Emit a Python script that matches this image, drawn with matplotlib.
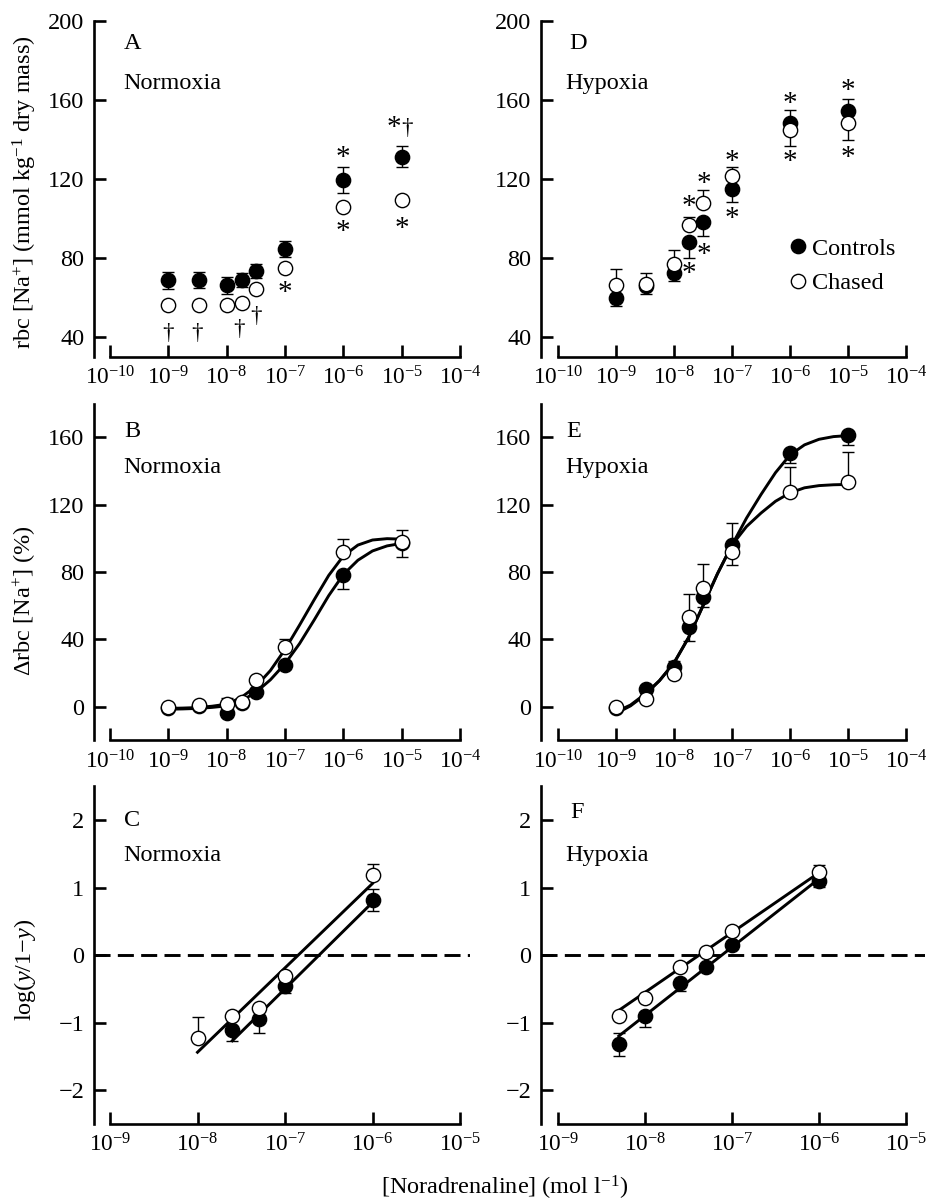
import numpy as np
import matplotlib.pyplot as plt
from matplotlib.ticker import FixedLocator, NullLocator, LogFormatterMathtext

plt.rcParams['font.family'] = ['Liberation Serif', 'DejaVu Serif']
plt.rcParams['mathtext.fontset'] = 'custom'
plt.rcParams['mathtext.rm'] = 'Liberation Serif'
plt.rcParams['mathtext.it'] = 'Liberation Serif:italic'
plt.rcParams['font.size'] = 17.5

# --- data ---------------------------------------------------------------
# noradrenaline concentrations (mol l-1)
conc_top = [1e-9, 3.3e-9, 1e-8, 1.85e-8, 3.2e-8, 1e-7, 1e-6, 1e-5]
conc_c_ctrl = [2.5e-8, 5e-8, 1e-7, 1e-6]
conc_c_chas = [1e-8, 2.5e-8, 5e-8, 1e-7, 1e-6]
conc_f = [5e-9, 1e-8, 2.5e-8, 5e-8, 1e-7, 1e-6]

# A: normoxia, rbc [Na+]
a_ctrl = [68.9, 68.9, 66.4, 69.2, 73.6, 84.5, 119.7, 131.4]
a_ctrl_err = [4.3, 4.1, 4.3, 3.5, 3.6, 4.0, 6.5, 5.3]
a_chas = [56.1, 56.1, 56.1, 57.5, 64.2, 75.1, 105.9, 109.6]

# D: hypoxia, rbc [Na+]
d_ctrl = [59.7, 66.0, 72.6, 88.2, 98.3, 115.1, 148.3, 154.6]
d_ctrl_lo = [3.9, 4.2, 4.0, 7.9, 7.0, 6.7, 0, 0]
d_ctrl_hi = [0, 0, 0, 0, 0, 0, 7.0, 6.3]
d_chas = [66.4, 67.0, 77.3, 96.6, 107.9, 121.5, 145.2, 148.6]
d_chas_lo = [0, 0, 0, 0, 0, 0, 8.2, 8.6]
d_chas_hi = [8.4, 5.6, 6.7, 4.3, 6.7, 4.5, 0, 0]

# B: normoxia, delta rbc [Na+] (%)
b_ctrl = [-0.5, 0.5, -4.0, 2.0, 8.5, 24.8, 78.2, 97.5]
b_ctrl_lo = [0, 0, 0, 0, 0, 2.5, 8.3, 0]
b_ctrl_hi = [0, 0, 0, 0, 0, 0, 0, 0]
b_chas = [0.0, 1.0, 1.6, 3.0, 15.8, 35.2, 91.7, 98.0]
b_chas_lo = [0, 0, 0, 0, 0, 0, 0, 9.3]
b_chas_hi = [0, 0, 3.3, 0, 0, 4.8, 7.7, 7.0]

# E: hypoxia, delta rbc [Na+] (%)
e_ctrl = [-1.0, 10.3, 23.8, 47.5, 65.0, 96.0, 150.5, 161.4]
e_ctrl_lo = [0, 0, 0, 8.3, 6.0, 0, 6.0, 6.0]
e_ctrl_hi = [0, 0, 3.3, 0, 0, 12.9, 0, 0]
e_chas = [0.0, 4.4, 19.4, 53.1, 70.3, 92.1, 127.8, 133.7]
e_chas_lo = [0, 0, 0, 0, 0, 7.9, 0, 0]
e_chas_hi = [0, 0, 0, 13.8, 14.3, 0, 14.8, 17.8]

# fitted curves in B and E, read at quarter-decade steps
curve_logx = [-9, -8.75, -8.5, -8.25, -8, -7.75, -7.5, -7.25, -7,
              -6.75, -6.5, -6.25, -6, -5.75, -5.5, -5.25, -5]
b_fit_ctrl = [-1.5, -1.3, -1.0, -0.4, 0.5, 3.5, 8.5, 16, 25.5,
              37.5, 51.5, 66, 78.5, 87, 92.5, 95.5, 97]
b_fit_chas = [-1.0, -0.8, -0.5, 0.3, 1.5, 5.5, 12, 21.5, 34,
              48.5, 63.5, 78, 89.5, 96, 99, 99.8, 99.5]
e_fit_ctrl = [-4, 0.5, 7, 15.5, 26, 41, 60, 79, 96,
              112, 126, 139, 149.5, 155.5, 158.8, 160.4, 161]
e_fit_chas = [-3, 1, 7.5, 15.5, 26, 41, 60, 79, 96,
              107, 115, 122, 127, 130, 131.3, 131.8, 132]

# C: normoxia, log(y/1-y)
c_ctrl = [-1.11, -0.95, -0.46, 0.81]
c_ctrl_lo = [0.16, 0.20, 0.10, 0.15]
c_ctrl_hi = [0, 0, 0, 0.17]
c_chas = [-1.23, -0.90, -0.79, -0.31, 1.18]
c_chas_lo = [0, 0, 0, 0, 0]
c_chas_hi = [0.31, 0, 0, 0, 0.17]
c_line_ctrl_x, c_line_ctrl_y = [2.5e-8, 1e-6], [-1.27, 0.78]
c_line_chas_x, c_line_chas_y = [1e-8, 1e-6], [-1.44, 1.06]

# F: hypoxia, log(y/1-y)
f_ctrl = [-1.32, -0.90, -0.41, -0.18, 0.15, 1.09]
f_ctrl_lo = [0.17, 0.17, 0.12, 0, 0, 0.08]
f_ctrl_hi = [0.16, 0, 0, 0, 0, 0]
f_chas = [-0.90, -0.63, -0.18, 0.05, 0.35, 1.23]
f_chas_lo = [0, 0, 0, 0, 0, 0]
f_chas_hi = [0, 0, 0, 0, 0, 0.10]
f_line_ctrl_x, f_line_ctrl_y = [5e-9, 1e-6], [-1.20, 1.13]
f_line_chas_x, f_line_chas_y = [5e-9, 1e-6], [-0.82, 1.22]

# significance marks (x, y, symbol)
a_marks = [(10**-9.01, 42.5, '†'), (10**-8.5, 42.5, '†'), (10**-7.79, 44.2, '†'),
           (10**-7.5, 50.9, '†'), (1e-7, 66.1, '*'), (1e-6, 134.1, '*'),
           (1e-6, 96.7, '*'), (10**-5.14, 149.3, '*'), (10**-4.9, 146.2, '†'),
           (1e-5, 98.2, '*')]
d_marks = [(10**-7.75, 109.3, '*'), (10**-7.74, 75.3, '*'), (10**-7.48, 121.0, '*'),
           (10**-7.48, 84.9, '*'), (1e-7, 132.0, '*'), (1e-7, 103.4, '*'),
           (1e-6, 161.4, '*'), (1e-6, 132.0, '*'), (1e-5, 168.4, '*'),
           (1e-5, 134.5, '*')]

# --- figure ------------------------------------------------------------
W, H = 928, 1200
fig = plt.figure(figsize=(W / 100, H / 100), dpi=100)

LW = 1.9      # spines / ticks
CLW = 2.1     # fitted curves
MS = 10.3


def make_ax(left, right, top, bottom, xlim, xticks, ylim, yticks):
    ax = fig.add_axes([left / W, 1 - bottom / H, (right - left) / W, (bottom - top) / H])
    ax.set_xscale('log')
    ax.set_xlim(xlim)
    ax.set_ylim(ylim)
    ax.xaxis.set_major_locator(FixedLocator(xticks))
    ax.xaxis.set_major_formatter(LogFormatterMathtext())
    ax.xaxis.set_minor_locator(NullLocator())
    ax.set_yticks(yticks)
    for s in ['top', 'right']:
        ax.spines[s].set_visible(False)
    for s in ['left', 'bottom']:
        ax.spines[s].set_linewidth(LW)
    ax.spines['bottom'].set_bounds(xticks[0], xticks[-1])
    ax.tick_params(direction='in', length=8.5, width=LW, pad=7)
    ax.tick_params(axis='x', labelsize=16.8)
    ax.tick_params(axis='y', labelsize=17.5)
    ax.patch.set_alpha(0)
    return ax


def points(ax, x, y, lo, hi, filled, z):
    ax.errorbar(x, y, yerr=[lo, hi], fmt='none', ecolor='black', elinewidth=1.0,
                capsize=4.6, capthick=1.0, zorder=z)
    ax.plot(x, y, 'o', ms=MS, mfc='black' if filled else 'white', mec='black',
            mew=1.0, zorder=z + 0.5, label='Controls' if filled else 'Chased')


def marks(ax, lst):
    for x, y, s in lst:
        if s == '*':
            ax.annotate(s, (x, y), xytext=(0, -10), textcoords='offset points',
                        ha='center', va='baseline', fontsize=21)
        else:
            ax.annotate(s, (x, y), xytext=(0, -4.5), textcoords='offset points',
                        ha='center', va='baseline', fontsize=16.5)


def lx(a):
    return [10 ** v for v in a]


top_ticks = [1e-10, 1e-9, 1e-8, 1e-7, 1e-6, 1e-5, 1e-4]
low_ticks = [1e-9, 1e-8, 1e-7, 1e-6, 1e-5]

rows = [(21.3, 357.0), (403.6, 740.4), (786.3, 1123.8)]
cols = [(94, 470, 110, 460), (541, 925, 558, 906)]


def xlim_for(col, ticks):
    left, right, t0, t1 = col
    lo, hi = np.log10(ticks[0]), np.log10(ticks[-1])
    ppd = (t1 - t0) / (hi - lo)
    return (10 ** (lo - (t0 - left) / ppd), 10 ** (hi + (right - t1) / ppd))


# A
axA = make_ax(cols[0][0], cols[0][1], *rows[0], xlim_for(cols[0], top_ticks), top_ticks,
              (30, 200), [40, 80, 120, 160, 200])
points(axA, conc_top, a_ctrl, a_ctrl_err, a_ctrl_err, True, 3)
points(axA, conc_top, a_chas, [0] * 8, [0] * 8, False, 4)
marks(axA, a_marks)

# D
axD = make_ax(cols[1][0], cols[1][1], *rows[0], xlim_for(cols[1], top_ticks), top_ticks,
              (30, 200), [40, 80, 120, 160, 200])
points(axD, conc_top, d_ctrl, d_ctrl_lo, d_ctrl_hi, True, 3)
points(axD, conc_top, d_chas, d_chas_lo, d_chas_hi, False, 4)
marks(axD, d_marks)
axD.legend(loc='upper left', bbox_to_anchor=(0.645, 0.355), frameon=False,
           handlelength=0.8, handletextpad=0.15, labelspacing=0.5, borderpad=0,
           borderaxespad=0, numpoints=1, fontsize=17.5)

# B
axB = make_ax(cols[0][0], cols[0][1], *rows[1], xlim_for(cols[0], top_ticks), top_ticks,
              (-20, 180), [0, 40, 80, 120, 160])
axB.plot(lx(curve_logx), b_fit_ctrl, color='black', lw=CLW, zorder=2)
axB.plot(lx(curve_logx), b_fit_chas, color='black', lw=CLW, zorder=2)
points(axB, conc_top, b_ctrl, b_ctrl_lo, b_ctrl_hi, True, 3)
points(axB, conc_top, b_chas, b_chas_lo, b_chas_hi, False, 4)

# E
axE = make_ax(cols[1][0], cols[1][1], *rows[1], xlim_for(cols[1], top_ticks), top_ticks,
              (-20, 180), [0, 40, 80, 120, 160])
axE.plot(lx(curve_logx), e_fit_ctrl, color='black', lw=CLW, zorder=2)
axE.plot(lx(curve_logx), e_fit_chas, color='black', lw=CLW, zorder=2)
points(axE, conc_top, e_ctrl, e_ctrl_lo, e_ctrl_hi, True, 3)
points(axE, conc_top, e_chas, e_chas_lo, e_chas_hi, False, 4)

# C
axC = make_ax(cols[0][0], cols[0][1], *rows[2], xlim_for(cols[0], low_ticks), low_ticks,
              (-2.5, 2.5), [-2, -1, 0, 1, 2])
axC.axhline(0, color='black', lw=CLW, dashes=(5.5, 2.5), zorder=1)
axC.plot(c_line_ctrl_x, c_line_ctrl_y, color='black', lw=CLW, zorder=2)
axC.plot(c_line_chas_x, c_line_chas_y, color='black', lw=CLW, zorder=2)
points(axC, conc_c_ctrl, c_ctrl, c_ctrl_lo, c_ctrl_hi, True, 3)
points(axC, conc_c_chas, c_chas, c_chas_lo, c_chas_hi, False, 4)

# F
axF = make_ax(cols[1][0], cols[1][1], *rows[2], xlim_for(cols[1], low_ticks), low_ticks,
              (-2.5, 2.5), [-2, -1, 0, 1, 2])
axF.axhline(0, color='black', lw=CLW, dashes=(5.5, 2.5), zorder=1)
axF.plot(f_line_ctrl_x, f_line_ctrl_y, color='black', lw=CLW, zorder=2)
axF.plot(f_line_chas_x, f_line_chas_y, color='black', lw=CLW, zorder=2)
points(axF, conc_f, f_ctrl, f_ctrl_lo, f_ctrl_hi, True, 3)
points(axF, conc_f, f_chas, f_chas_lo, f_chas_hi, False, 4)

# panel letters and conditions
for ax, letter, cond, x0, yl, yc in [
        (axA, 'A', 'Normoxia', 0.078, 0.935, 0.816),
        (axB, 'B', 'Normoxia', 0.080, 0.917, 0.809),
        (axC, 'C', 'Normoxia', 0.080, 0.900, 0.796),
        (axD, 'D', 'Hypoxia', 0.073, 0.935, 0.816),
        (axE, 'E', 'Hypoxia', 0.065, 0.917, 0.809),
        (axF, 'F', 'Hypoxia', 0.075, 0.921, 0.796)]:
    ax.text(x0, yl, letter, transform=ax.transAxes, ha='left', va='center', fontsize=17.5)
    ax.text(0.063 if cond == 'Hypoxia' else 0.078, yc, cond, transform=ax.transAxes,
            ha='left', va='center', fontsize=17.5)

# axis labels
fig.text(25 / W, 1 - 192 / H, r'rbc [Na$^{+}$] (mmol kg$^{-1}$ dry mass)', rotation=90,
         ha='center', va='center', fontsize=17.5)
fig.text(25 / W, 1 - 601 / H, r'$\Delta$rbc [Na$^{+}$] (%)', rotation=90,
         ha='center', va='center', fontsize=17.5)
fig.text(25 / W, 1 - 970 / H, r'log($y$/1−$y$)', rotation=90,
         ha='center', va='center', fontsize=17.5)
fig.text(505 / W, 1 - 1188 / H, r'[Noradrenaline] (mol l$^{-1}$)',
         ha='center', va='center', fontsize=17.5)

fig.savefig('out.png', dpi=100)
